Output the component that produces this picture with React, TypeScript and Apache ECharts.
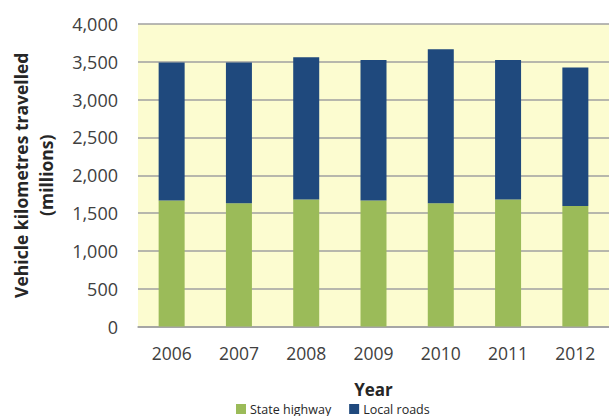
import React, { useEffect, useRef } from "react";
import * as echarts from "echarts";

const years = ["2006", "2007", "2008", "2009", "2010", "2011", "2012"];
const stateHighway = [1665, 1630, 1680, 1665, 1630, 1680, 1595];
const localRoads = [1825, 1860, 1880, 1860, 2035, 1845, 1830];
const seriesNames = ["State highway", "Local roads"];

export default function App() {
  const ref = useRef<HTMLDivElement>(null);
  useEffect(() => {
    if (!ref.current) return;
    const chart = echarts.init(ref.current, null, { renderer: "svg" });
    const font = "'Open Sans', sans-serif";
    chart.setOption({
      animation: false,
      textStyle: { fontFamily: font },
      grid: {
        left: 133.6,
        top: 24,
        width: 478,
        height: 302.5,
        show: true,
        backgroundColor: "#FCFCD0",
        borderWidth: 0,
      },
      legend: {
        data: seriesNames,
        left: 231,
        top: 397,
        itemWidth: 10,
        itemHeight: 10,
        itemGap: 18,
        icon: "rect",
        textStyle: { fontFamily: font, fontSize: 12.5, color: "#262626", padding: [0, 0, 0, -1], lineHeight: 14 },
      },
      xAxis: {
        type: "category",
        data: years,
        name: "Year",
        nameLocation: "middle",
        nameGap: 54,
        nameTextStyle: { fontFamily: font, fontSize: 17, fontWeight: "bold", color: "#262626" },
        axisTick: { show: false },
        axisLine: { lineStyle: { color: "#A0A0A0", width: 1.5 } },
        axisLabel: { fontFamily: font, fontSize: 17.5, color: "#404040", margin: 17 },
      },
      yAxis: {
        type: "value",
        min: 0,
        max: 4000,
        interval: 500,
        name: "Vehicle kilometres travelled\n(millions)",
        nameLocation: "middle",
        nameRotate: 90,
        nameGap: 80,
        nameTextStyle: { fontFamily: font, fontSize: 17.5, fontWeight: "bold", color: "#262626", lineHeight: 25 },
        axisLine: { show: false },
        axisTick: { show: false },
        splitLine: { lineStyle: { color: "#A0A0A0", width: 1.5 } },
        axisLabel: {
          fontFamily: font,
          fontSize: 18,
          color: "#404040",
          margin: 20,
          formatter: (v: number) => v.toLocaleString("en-US"),
        },
      },
      series: [
        {
          name: seriesNames[0],
          type: "bar",
          stack: "total",
          data: stateHighway,
          barWidth: 26,
          itemStyle: { color: "#9BBB59" },
        },
        {
          name: seriesNames[1],
          type: "bar",
          stack: "total",
          data: localRoads,
          barWidth: 26,
          itemStyle: { color: "#1F497D" },
        },
      ],
    });
    return () => chart.dispose();
  }, []);
  return (
    <div
      ref={ref}
      style={{ position: "fixed", left: 0, top: 0, width: 609, height: 416, background: "#ffffff" }}
    />
  );
}
